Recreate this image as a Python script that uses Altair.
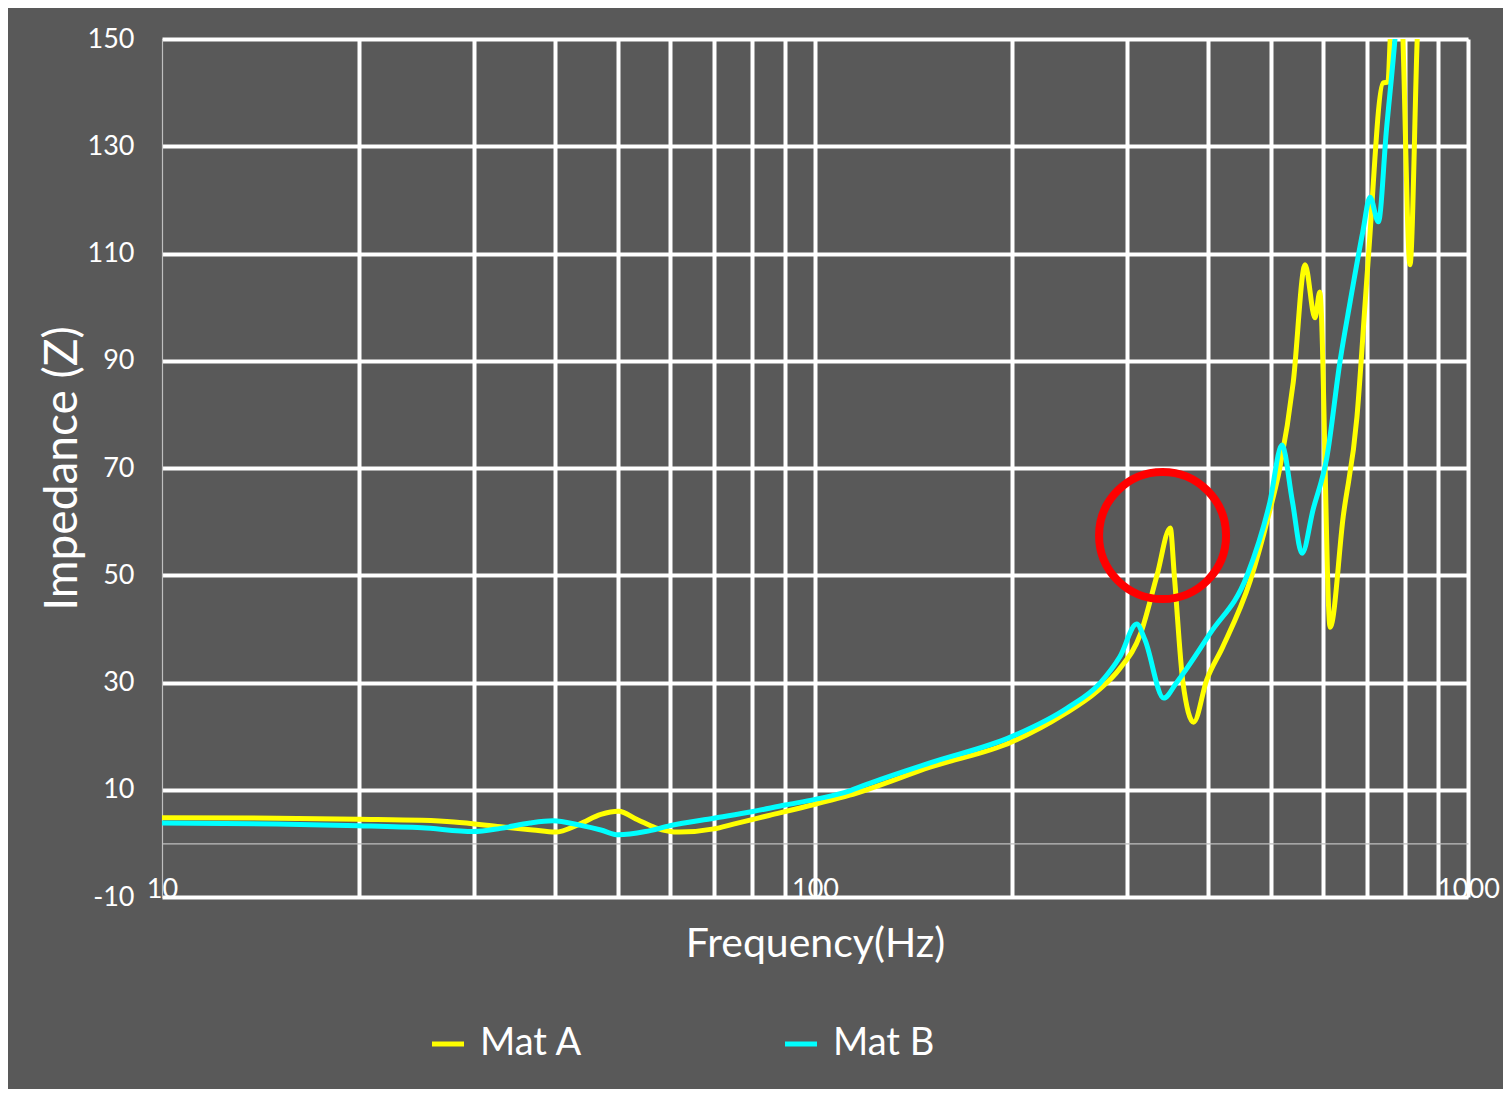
import altair as alt
import pandas as pd

# ---- data ----
series_names = ["Mat A", "Mat B"]
series_colors = ["#FFFF00", "#00FFFF"]

freq_a = [10, 15, 20, 25, 28, 33, 37, 40, 43.6, 47, 50, 53.5, 57, 62, 70, 75, 85, 100,
          113, 120, 150, 200, 240, 270, 293, 315, 334, 350, 355, 366, 380, 398, 421,
          464, 497, 515, 540, 563, 583, 593, 615, 644, 676, 696, 705, 741, 754, 760,
          777, 795, 815, 836, 870]
imp_a = [4.8, 4.7, 4.5, 4.3, 4.0, 3.1, 2.5, 2.1, 3.6, 5.4, 6.0, 4.4, 2.9, 2.1, 2.7, 3.6, 5.2, 7.3,
         9.0, 10.0, 14.2, 18.9, 24.0, 28.3, 32.6, 39.0, 50.0, 58.8, 50.0, 30.0, 22.6, 30.5, 36.6,
         49.0, 62.0, 70.0, 86.0, 107.9, 98.0, 102.8, 40.3, 60.9, 79.5, 101.0, 110.6, 141.8, 142.0, 150.0,
         185.0, 150.0, 107.9, 150.0, 200.0]

freq_b = [10, 15, 20, 25, 30, 33, 36.6, 39.7, 43.6, 47, 50, 55, 60, 70, 80, 90, 100,
          113, 120, 150, 200, 243, 273, 293, 311, 320, 342, 358, 403, 459, 497, 519,
          538, 557, 579, 608, 637, 660, 690, 708, 729, 750, 773, 800]
imp_b = [3.8, 3.6, 3.3, 2.9, 2.2, 2.8, 3.8, 4.2, 3.4, 2.5, 1.6, 2.2, 3.3, 4.7, 5.9, 7.15, 8.2,
         9.8, 11.0, 15.0, 19.9, 25.2, 29.85, 34.8, 40.9, 38.0, 27.1, 30.0, 39.2, 50.0, 63.5, 74.3,
         64.0, 54.1, 62.2, 72.0, 90.0, 101.0, 114.0, 120.5, 115.9, 133.0, 150.0, 175.0]

x_grid_values = [10, 20, 30, 40, 50, 60, 70, 80, 90, 100, 200, 300, 400, 500, 600, 700, 800, 900, 1000]
x_label_values = [10, 100, 1000]
y_tick_values = [-10, 10, 30, 50, 70, 90, 110, 130, 150]
y_domain = [-10, 150]
x_domain = [10, 1000]

# highlight circle (annotation) position in data units
circle_freq = [340.6]
circle_imp = [57.4]

# ---- build tables ----
df = pd.DataFrame({
    "freq": freq_a + freq_b,
    "imp": imp_a + imp_b,
    "series": [series_names[0]] * len(freq_a) + [series_names[1]] * len(freq_b),
})
df_circle = pd.DataFrame({"freq": circle_freq, "imp": circle_imp})

BG = "#595959"
GRIDC = "#FFFFFF"
AXC = "#BFBFBF"
FONT = "Lato"

x_scale = alt.Scale(type="log", domain=x_domain, nice=False)
y_scale = alt.Scale(domain=y_domain, nice=False, zero=False)

label_test = "indexof(" + str(x_label_values) + ", datum.value) >= 0"

x_axis = alt.Axis(
    values=x_grid_values,
    labelExpr=label_test + " ? format(datum.value, 'd') : ''",
    grid=True,
    gridColor={"condition": {"test": "datum.value === 10", "value": "rgba(0,0,0,0)"}, "value": GRIDC},
    gridWidth=4,
    ticks=False,
    domain=True,
    domainColor=AXC,
    domainWidth=1.2,
    offset=-53.6,
    labelColor="#FFFFFF",
    labelFont=FONT,
    labelFontSize=27,
    labelPadding=33,
    labelAlign="center",
    labelOverlap=False,
    labelBound=False,
    labelFlush=False,
    title="Frequency(Hz)",
    titleColor="#FFFFFF",
    titleFont=FONT,
    titleFontSize=41,
    titleFontWeight="normal",
    titleX=653,
    titleY=113,
    titleAlign="center",
    titleBaseline="alphabetic",
)

y_axis = alt.Axis(
    values=y_tick_values,
    labelExpr="datum.value < 0 ? '-' + abs(datum.value) : '' + datum.value",
    grid=True,
    gridColor=GRIDC,
    gridWidth=4,
    ticks=False,
    domain=True,
    domainColor=AXC,
    domainWidth=1.2,
    labelColor="#FFFFFF",
    labelFont=FONT,
    labelFontSize=27,
    labelPadding=28,
    labelOverlap=False,
    labelBound=False,
    labelFlush=False,
    title="Impedance (Z)",
    titleColor="#FFFFFF",
    titleFont=FONT,
    titleFontSize=46,
    titleFontWeight="normal",
    titleAngle=270,
    titleX=-86,
    titleY=429,
    titleAlign="center",
    titleBaseline="alphabetic",
)

lines = alt.Chart(df).mark_line(strokeWidth=5, clip=True, interpolate="monotone").encode(
    x=alt.X("freq:Q", scale=x_scale, axis=x_axis),
    y=alt.Y("imp:Q", scale=y_scale, axis=y_axis),
    color=alt.Color(
        "series:N",
        scale=alt.Scale(domain=series_names, range=series_colors),
        legend=alt.Legend(
            title=None,
            orient="none",
            legendX=267,
            legendY=986,
            direction="horizontal",
            symbolType="stroke",
            symbolStrokeWidth=5,
            symbolSize=1024,
            labelFont=FONT,
            labelFontSize=38,
            labelColor="#FFFFFF",
            labelOffset=13,
            columnPadding=192,
            padding=0,
            labelLimit=300,
        ),
    ),
    order=alt.Order("freq:Q"),
)

circle = alt.Chart(df_circle).mark_point(
    shape="circle", filled=False, size=16129, strokeWidth=8, color="#FF0000", opacity=1
).encode(
    x=alt.X("freq:Q", scale=x_scale),
    y=alt.Y("imp:Q", scale=y_scale),
)

chart = alt.layer(lines, circle).properties(
    width=1306,
    height=858,
    background=BG,
    padding={"left": 154, "top": 31, "right": 35, "bottom": 192},
    autosize=alt.AutoSizeParams(type="none"),
).configure_view(stroke=None, fill=None).configure(font=FONT)

chart.save("out.html", embed_options={"renderer": "svg", "actions": False})
